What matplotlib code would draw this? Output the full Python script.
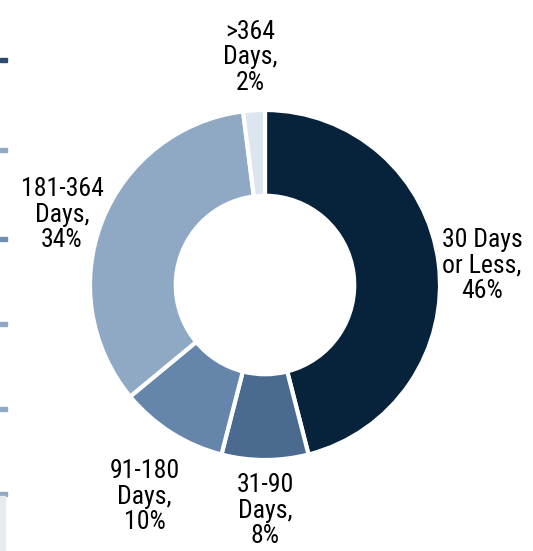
import matplotlib
matplotlib.use("Agg")
import matplotlib.pyplot as plt
from matplotlib.patches import Rectangle
import numpy as np

categories = ["30 Days\nor Less", "31-90\nDays", "91-180\nDays", "181-364\nDays", ">364\nDays"]
shares = [46, 8, 10, 34, 2]
colors = ["#07233b", "#4a6a90", "#6685aa", "#8fa9c4", "#dde5ee"]
label_dist = [1.25, 1.29, 1.38, 1.26, 1.305]
label_nudge = [(0, -8), (0, 0), (9, -8), (2, -11), (0, 0)]  # px

plt.rcParams["font.family"] = ["Roboto Condensed", "Liberation Sans", "DejaVu Sans"]

W, H = 533, 551
CX, CY, R = 265, 266, 175  # pie centre (px from bottom-left) and radius

fig = plt.figure(figsize=(W / 100, H / 100), dpi=100)
ax = fig.add_axes([0, 0, 1, 1])
ax.axis("off")

wedges, _ = ax.pie(
    shares,
    colors=colors,
    startangle=90,
    counterclock=False,
    radius=1.0,
    wedgeprops=dict(width=0.49, edgecolor="white", linewidth=3),
)
ax.set_xlim(-CX / R, (W - CX) / R)
ax.set_ylim(-CY / R, (H - CY) / R)
ax.set_aspect("equal")

for w, cat, pct, d, (nx, ny) in zip(wedges, categories, shares, label_dist, label_nudge):
    mid = np.deg2rad((w.theta1 + w.theta2) / 2)
    ax.text(d * np.cos(mid) + nx / R, d * np.sin(mid) + ny / R, f"{cat},\n{pct}%",
            ha="center", va="center", fontsize=18.5, linespacing=1.08, color="black")

# cropped legend remnants along the left edge
marks = [(58, "#2e4a6a"), (148, "#8fa9c4"), (237, "#6f8fb3"),
         (322, "#8fa9c4"), (407, "#8fa9c4"), (492, "#8fa9c4")]
for y, c in marks:
    fig.patches.append(Rectangle((0, 1 - (y + 4) / H), 7 / W, 4 / H,
                                 transform=fig.transFigure, color=c))
fig.patches.append(Rectangle((0, 0), 5 / W, 55 / H, transform=fig.transFigure, color="#e6ebf1"))

fig.savefig("out.png", dpi=100)
